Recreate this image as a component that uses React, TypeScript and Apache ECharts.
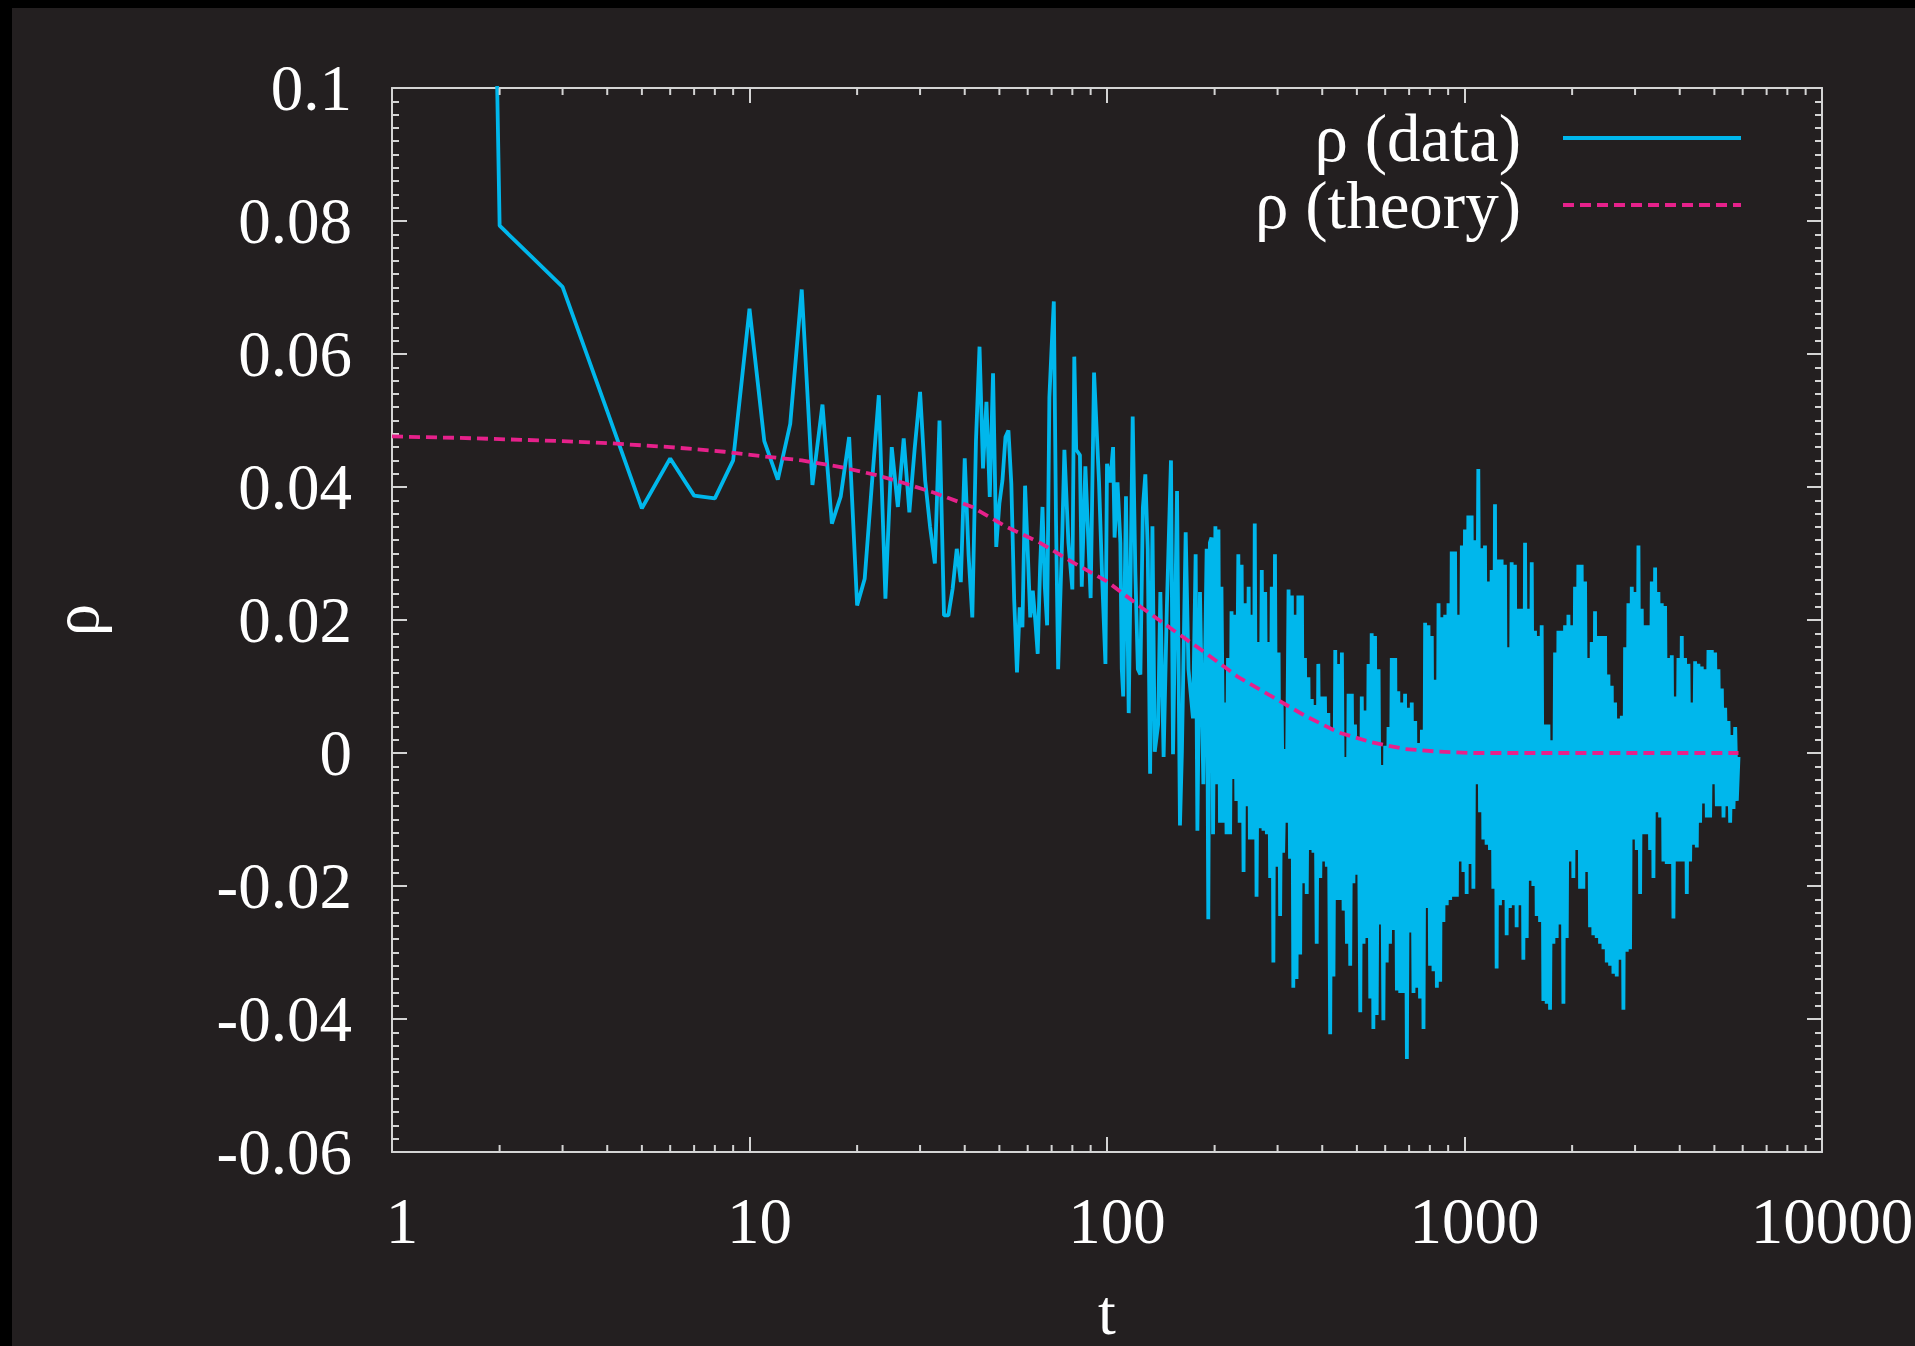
import React, { useEffect, useRef } from "react";
import * as echarts from "echarts";

const FONT = '"Liberation Serif", "Times New Roman", Times, serif';
const BG = "#231f20";
const FRAME = "#d4d4d4";
const CYAN = "#00b7ec";
const PINK = "#e6218b";

// lag t = 1..73, read one by one
const earlyLag = [
  1, 2, 3, 4, 5, 6, 7, 8, 9, 10, 11, 12, 13, 14, 15, 16, 17, 18, 19, 20,
  21, 22, 23, 24, 25, 26, 27, 28, 29, 30, 31, 32, 33, 34, 35, 36, 37, 38, 39, 40,
  41, 42, 43, 44, 45, 46, 47, 48, 49, 50, 51, 52, 53, 54, 55, 56, 57, 58, 59, 60,
  61, 62, 63, 64, 65, 66, 67, 68, 69, 70, 71, 72, 73,
];
const earlyRho = [
  1.0, 0.0793, 0.0701, 0.0514, 0.0368, 0.0443, 0.0387, 0.0383, 0.044, 0.0668,
  0.0469, 0.0411, 0.0495, 0.0697, 0.0403, 0.0524, 0.0345, 0.0386, 0.0475, 0.0222,
  0.0262, 0.0405, 0.0538, 0.0232, 0.046, 0.037, 0.0473, 0.0362, 0.046, 0.0543,
  0.041, 0.034, 0.0285, 0.05, 0.0207, 0.0207, 0.0247, 0.0307, 0.0257, 0.0443,
  0.0298, 0.0204, 0.0469, 0.0611, 0.0428, 0.0528, 0.0385, 0.0571, 0.031, 0.0375,
  0.041, 0.0475, 0.0485, 0.0405, 0.023, 0.0121, 0.0219, 0.0189, 0.0402, 0.0305,
  0.0204, 0.0244, 0.02, 0.0149, 0.028, 0.037, 0.025, 0.0192, 0.0535, 0.061,
  0.0679, 0.035, 0.0126,
];

// lags 75..194: local extremes
const midLag = [
  75, 76, 78, 80, 81, 82, 84, 85, 87, 90, 92, 95, 97, 99, 100, 102, 104, 105, 107, 109,
  110, 111, 113, 115, 118, 120, 122, 124, 126, 128, 130, 132, 134, 136, 139, 141, 144, 147, 151, 153,
  157, 160, 162, 166, 169, 174, 177, 179, 182, 186, 190, 192, 194,
];
const midRho = [
  0.0332, 0.0456, 0.0316, 0.0246, 0.0596, 0.0456, 0.0448, 0.025, 0.0431, 0.0233,
  0.0572, 0.0407, 0.0258, 0.0134, 0.0435, 0.0407, 0.046, 0.0324, 0.0407, 0.0316,
  0.0126, 0.0085, 0.0386, 0.006, 0.0506, 0.0274, 0.0126, 0.0118, 0.0369, 0.0419,
  0.0307, -0.0031, 0.0341, 0.0002, 0.0043, 0.0242, -0.0006, 0.0217, 0.044, -0.0002,
  0.0394, -0.0109, 0.0002, 0.0332, 0.0126, 0.0052, 0.0299, -0.0117, 0.0242, -0.0047,
  0.0307, -0.025, 0.0316,
];

// lags 196..1036: alternating upper / lower extremes
const denseLagA = [
  196, 198, 201, 203, 205, 207, 209, 212, 214, 216,
  218, 221, 223, 226, 228, 230, 233, 235, 238, 241,
  243, 246, 249, 251, 254, 257, 259, 262, 265, 268,
  271, 274, 277, 280, 283, 286, 289, 292, 295, 298,
  302, 305, 308, 311, 315, 318, 322, 325, 329, 332,
  336, 339, 343, 347, 351, 354, 358, 362, 366, 370,
  374, 378, 382, 386, 390, 395, 399, 403, 407, 412,
  416, 421, 425, 430, 435, 439, 444, 449, 454, 459,
  464, 469, 474, 479, 484, 489, 494, 500, 505, 511,
  516, 522, 527, 533, 539, 545, 550, 556, 562, 568,
  575, 581, 587, 593, 600, 606, 613, 619, 626, 633,
  640, 647, 653, 661, 668, 675, 682, 690, 697, 705,
  712, 720, 728, 735, 743, 751, 760, 768, 776, 784,
  793, 801, 810, 819, 828, 837, 846, 855, 864, 873,
  883, 892, 902, 912, 921, 931, 941, 952, 962, 972,
  983, 993, 1003, 1014, 1025, 1036,
];
const denseRhoA = [
  0.0324, -0.0122, 0.0341, -0.0047, 0.0336, -0.0105, 0.025, -0.0105, 0.0076, -0.0122,
  0.0143, -0.0122, 0.0213, -0.0039, 0.0208, -0.0072, 0.0299, -0.0105, 0.0283, -0.0179,
  0.0225, -0.008, 0.025, -0.013, 0.0208, -0.013, 0.0345, -0.0216, 0.0167, -0.0113,
  0.0275, -0.0117, 0.0242, -0.0122, 0.0167, -0.0188, 0.025, -0.0315, 0.0299, -0.0171,
  0.0151, -0.0245, 0.0076, -0.015, 0.0006, -0.0105, 0.0246, -0.0159, 0.0237, -0.0353,
  0.0208, -0.034, 0.0237, -0.0303, 0.0237, -0.0196, 0.0143, -0.0212, 0.0114, -0.0146,
  0.0081, -0.015, 0.0072, -0.0287, 0.0134, -0.0188, 0.0085, -0.0163, 0.0085, -0.0171,
  0.006, -0.0423, 0.0035, -0.0336, 0.0155, -0.0221, 0.0134, -0.0221, 0.0151, -0.0237,
  -0.0006, -0.0287, 0.0089, -0.032, 0.0089, -0.0196, 0.0043, -0.0183, 0.0023, -0.039,
  0.0085, -0.0287, 0.0064, -0.0278, 0.0134, -0.0369, 0.018, -0.0415, 0.0176, -0.0394,
  0.0126, -0.0258, -0.0018, -0.0402, 0.0011, -0.0315, 0.0039, -0.0287, 0.0143, -0.0266,
  0.0143, -0.0357, 0.0093, -0.0361, 0.0076, -0.0361, 0.0089, -0.046, 0.0068, -0.027,
  0.0076, -0.0361, 0.0048, -0.0353, 0.0015, -0.0369, 0.0035, -0.0415, 0.0196, -0.0233,
  0.0192, -0.032, 0.0176, -0.0328, 0.011, -0.0353, 0.0225, -0.0344, 0.0204, -0.0254,
  0.0208, -0.0229, 0.0225, -0.0221, 0.0303, -0.0216, 0.0303, -0.0216, 0.0208, -0.0163,
  0.0312, -0.0179, 0.0336, -0.0212, 0.0357, -0.0167,
];

// lags 1047..5840: alternating upper / lower extremes
const denseLagB = [
  1047, 1059, 1070, 1081, 1093, 1105, 1117, 1129, 1141, 1153,
  1166, 1178, 1191, 1204, 1217, 1230, 1243, 1257, 1270, 1284,
  1298, 1312, 1326, 1340, 1355, 1370, 1384, 1399, 1414, 1430,
  1445, 1461, 1477, 1493, 1509, 1525, 1542, 1558, 1575, 1592,
  1609, 1627, 1644, 1662, 1680, 1698, 1717, 1735, 1754, 1773,
  1792, 1811, 1831, 1851, 1871, 1891, 1911, 1932, 1953, 1974,
  1995, 2016, 2038, 2060, 2082, 2105, 2127, 2150, 2174, 2197,
  2221, 2245, 2269, 2293, 2318, 2343, 2368, 2394, 2420, 2447,
  2473, 2500, 2527, 2554, 2582, 2610, 2638, 2666, 2695, 2724,
  2754, 2783, 2813, 2844, 2874, 2905, 2937, 2968, 3000, 3033,
  3066, 3099, 3132, 3166, 3200, 3235, 3270, 3305, 3341, 3377,
  3413, 3450, 3487, 3525, 3563, 3601, 3640, 3679, 3719, 3760,
  3800, 3841, 3883, 3925, 3967, 4010, 4053, 4097, 4141, 4186,
  4231, 4277, 4323, 4370, 4417, 4464, 4512, 4561, 4610, 4661,
  4711, 4762, 4813, 4865, 4918, 4971, 5024, 5079, 5133, 5190,
  5246, 5303, 5360, 5418, 5476, 5535, 5595, 5656, 5717, 5778,
  5840,
];
const denseRhoB = [
  0.0357, -0.0204, 0.032, -0.0047, 0.0427, -0.0089, 0.0308, -0.013, 0.0312, -0.0138,
  0.0258, -0.0146, 0.0275, -0.0204, 0.0374, -0.0324, 0.0291, -0.0229, 0.0291, -0.0221,
  0.0283, -0.0274, 0.0159, -0.0233, 0.0287, -0.0229, 0.0283, -0.0262, 0.0217, -0.0229,
  0.0217, -0.0311, 0.0316, -0.0278, 0.0217, -0.0192, 0.0287, -0.02, 0.0184, -0.0245,
  0.0176, -0.0254, 0.0192, -0.0373, 0.0043, -0.0377, 0.0043, -0.0386, 0.0019, -0.0287,
  0.0151, -0.0278, 0.0184, -0.0258, 0.0184, -0.0377, 0.0192, -0.0278, 0.0208, -0.0163,
  0.0192, -0.0188, 0.025, -0.0146, 0.0283, -0.0204, 0.0283, -0.0204, 0.0258, -0.0179,
  0.0143, -0.0262, 0.0167, -0.0274, 0.0213, -0.0278, 0.0176, -0.0287, 0.0176, -0.0295,
  0.0176, -0.0315, 0.0118, -0.032, 0.0101, -0.0332, 0.0076, -0.0336, 0.0052, -0.0311,
  0.0056, -0.0386, 0.0159, -0.0299, 0.0225, -0.0295, 0.025, -0.013, 0.0242, -0.0146,
  0.0312, -0.0212, 0.0217, -0.0122, 0.0192, -0.0122, 0.0192, -0.0146, 0.0258, -0.0188,
  0.0279, -0.0089, 0.0242, -0.0097, 0.0225, -0.0163, 0.0221, -0.0167, 0.0143, -0.0167,
  0.0147, -0.0249, 0.0085, -0.0163, 0.0143, -0.0163, 0.0176, -0.0163, 0.0143, -0.0212,
  0.0134, -0.0163, 0.0076, -0.0138, 0.0138, -0.0142, 0.0134, -0.0105, 0.013, -0.0076,
  0.0126, -0.0097, 0.0155, -0.0097, 0.0155, -0.0047, 0.0151, -0.008, 0.0126, -0.008,
  0.0097, -0.0097, 0.0068, -0.008, 0.0048, -0.0105, 0.0027, -0.0084, 0.0039, -0.0072,
  -0.0006,
];

// theory curve, read at these lags
const theoryLag = [
  1, 1.5, 2, 3, 4, 6, 8.5, 11, 14, 18, 23, 27, 33, 42, 52, 65, 80, 100, 124, 153,
  188, 233, 289, 358, 444, 550, 682, 846, 1048, 1500, 2500, 4000, 5840,
];
const theoryRho = [
  0.0476, 0.0474, 0.0472, 0.0469, 0.0466, 0.046, 0.0453, 0.0446, 0.044, 0.043,
  0.0417, 0.0406, 0.0391, 0.037, 0.0341, 0.0316, 0.0287, 0.0258, 0.022, 0.0185,
  0.0151, 0.0114, 0.0085, 0.0056, 0.0031, 0.0016, 0.0006, 0.0002, 0.0, 0.0, 0.0, 0.0, 0.0,
];

// minor ticks on the log axis
const minorTickLags = [
  2, 3, 4, 5, 6, 7, 8, 9,
  20, 30, 40, 50, 60, 70, 80, 90,
  200, 300, 400, 500, 600, 700, 800, 900,
  2000, 3000, 4000, 5000, 6000, 7000, 8000, 9000,
];

const legendNames = ["ρ (data)", "ρ (theory)"];

function pairs(xs: number[], ys: number[]) {
  const n = Math.min(xs.length, ys.length);
  const out: number[][] = [];
  for (let i = 0; i < n; i++) out.push([xs[i], ys[i]]);
  return out;
}

export default function App() {
  const ref = useRef<HTMLDivElement>(null);
  useEffect(() => {
    const chart = echarts.init(ref.current!, null, { renderer: "svg" });
    const dataPoints = [
      ...pairs(earlyLag, earlyRho),
      ...pairs(midLag, midRho),
      ...pairs(denseLagA, denseRhoA),
      ...pairs(denseLagB, denseRhoB),
    ];
    const theoryPoints = pairs(theoryLag, theoryRho);
    const labelStyle = { color: "#ffffff", fontFamily: FONT, fontSize: 65 };
    const lineS = { color: FRAME, width: 2 };
    const xBase = {
      type: "log",
      logBase: 10,
      min: 1,
      max: 10000,
      axisLine: { show: true, onZero: false, lineStyle: lineS },
      axisTick: { show: true, inside: true, length: 15, lineStyle: lineS },
      splitLine: { show: false },
      minorTick: { show: false },
    };
    const yBase = {
      type: "value",
      min: -0.06,
      max: 0.1,
      interval: 0.02,
      axisLine: { show: true, onZero: false, lineStyle: lineS },
      axisTick: { show: true, inside: true, length: 15, lineStyle: lineS },
      minorTick: { show: true, splitNumber: 10, length: 7, lineStyle: lineS },
      splitLine: { show: false },
      minorSplitLine: { show: false },
    };
    const legendFont = { fill: "#ffffff", fontSize: 67, fontFamily: FONT, align: "right", verticalAlign: "middle" };
    const option: any = {
      animation: false,
      backgroundColor: BG,
      grid: { left: 380, top: 80, width: 1430, height: 1064, containLabel: false, outerBoundsMode: "none" },
      xAxis: [
        {
          ...xBase,
          position: "bottom",
          axisLabel: {
            ...labelStyle,
            margin: 36,
            padding: [0, 0, 0, 20],
            formatter: (v: number) => String(Math.round(v)),
          },
          name: "t",
          nameLocation: "middle",
          nameGap: 128,
          nameTextStyle: { ...labelStyle, fontSize: 64 },
        },
        { ...xBase, position: "top", axisLabel: { show: false } },
      ],
      yAxis: [
        {
          ...yBase,
          position: "left",
          axisLabel: {
            ...labelStyle,
            margin: 40,
            formatter: (v: number) => String(Math.round(v * 100) / 100),
          },
          name: "ρ",
          nameLocation: "middle",
          nameRotate: 90,
          nameGap: 284,
          nameTextStyle: labelStyle,
        },
        { ...yBase, position: "right", axisLabel: { show: false } },
      ],
      graphic: [
        { type: "text", x: 1509, y: 130, style: { text: legendNames[0], ...legendFont } },
        {
          type: "line",
          shape: { x1: 1551, y1: 130, x2: 1729, y2: 130 },
          style: { stroke: CYAN, lineWidth: 3.8 },
        },
        { type: "text", x: 1509, y: 197, style: { text: legendNames[1], ...legendFont } },
        {
          type: "line",
          shape: { x1: 1551, y1: 197, x2: 1729, y2: 197 },
          style: { stroke: PINK, lineWidth: 3.8, lineDash: [11, 6] },
        },
      ],
      series: [
        {
          type: "line",
          name: legendNames[0],
          xAxisIndex: 0,
          yAxisIndex: 0,
          data: dataPoints,
          symbol: "none",
          showSymbol: false,
          clip: true,
          lineStyle: { color: CYAN, width: 3.8 },
          itemStyle: { color: CYAN },
          z: 2,
        },
        {
          type: "line",
          name: legendNames[1],
          xAxisIndex: 0,
          yAxisIndex: 0,
          data: theoryPoints,
          symbol: "none",
          showSymbol: false,
          clip: true,
          lineStyle: { color: PINK, width: 3.8, type: [11, 6] },
          itemStyle: { color: PINK },
          z: 3,
        },
        {
          type: "custom",
          xAxisIndex: 0,
          yAxisIndex: 0,
          silent: true,
          clip: false,
          z: 4,
          data: minorTickLags.map((t) => [t, 0]),
          renderItem: (params: any, api: any) => {
            const x = api.coord([api.value(0), 0])[0];
            const cs = params.coordSys;
            const bottom = cs.y + cs.height;
            return {
              type: "group",
              children: [
                { type: "line", shape: { x1: x, y1: bottom, x2: x, y2: bottom - 7 }, style: { stroke: FRAME, lineWidth: 2 } },
                { type: "line", shape: { x1: x, y1: cs.y, x2: x, y2: cs.y + 7 }, style: { stroke: FRAME, lineWidth: 2 } },
              ],
            };
          },
        },
      ],
    };
    chart.setOption(option);
    return () => chart.dispose();
  }, []);
  return (
    <div style={{ position: "absolute", left: 0, top: 0, width: 1915, height: 1346, background: "#000", overflow: "hidden" }}>
      <div ref={ref} style={{ position: "absolute", left: 12, top: 8, width: 1903, height: 1338, background: BG }} />
    </div>
  );
}
